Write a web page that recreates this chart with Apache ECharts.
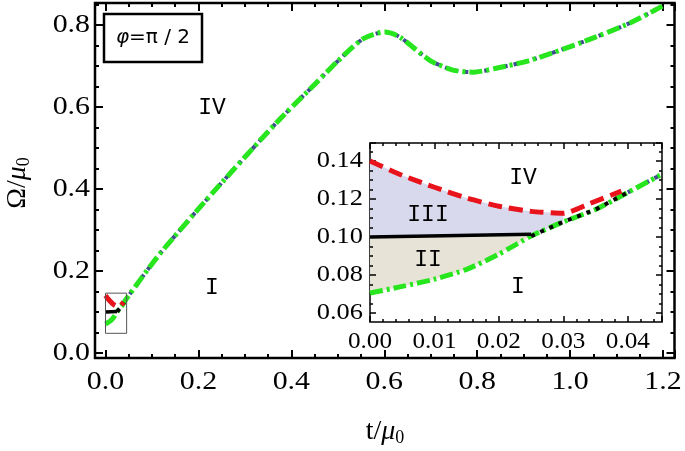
<!DOCTYPE html>
<html><head><meta charset="utf-8">
<script src="https://cdn.jsdelivr.net/npm/echarts@6/dist/echarts.min.js"></script>
<style>html,body{margin:0;padding:0;background:#fff}#c{width:685px;height:451px}</style>
</head><body><div id="c"></div>
<script>
// ---- data (t/mu0 , Omega/mu0) ----
// boundary I (green dash-dot), continues as the main upper curve
const greenT = [0, 0.005, 0.01, 0.015, 0.02, 0.025, 0.03, 0.035, 0.04, 0.045, 0.117, 0.231, 0.369, 0.45, 0.5, 0.554, 0.601, 0.633, 0.698, 0.748, 0.791, 0.843, 0.914, 1.021, 1.129, 1.2];
const greenW = [0.0705, 0.074, 0.0778, 0.083, 0.091, 0.1005, 0.108, 0.1145, 0.1235, 0.1325, 0.242, 0.391, 0.563, 0.655, 0.712, 0.766, 0.783, 0.771, 0.714, 0.690, 0.685, 0.695, 0.714, 0.756, 0.805, 0.847];
// blue dotted curve (same branch, drawn underneath)
const blueT = [0.04, 0.045, 0.117, 0.231, 0.369, 0.45, 0.5, 0.554, 0.601, 0.633, 0.698, 0.748, 0.791, 0.843, 0.914, 1.021, 1.129, 1.2];
const blueW = [0.1235, 0.1325, 0.242, 0.391, 0.563, 0.655, 0.712, 0.766, 0.783, 0.771, 0.714, 0.690, 0.685, 0.695, 0.714, 0.756, 0.805, 0.847];
// red dashed boundary (IV)
const redT = [0, 0.005, 0.01, 0.015, 0.02, 0.025, 0.03, 0.034, 0.039];
const redW = [0.14, 0.1325, 0.1262, 0.1205, 0.1162, 0.1135, 0.1125, 0.1175, 0.1242];
// black solid boundary (II / III)
const blackT = [0, 0.025];
const blackW = [0.1, 0.1015];
// black dotted continuation
const blackDotT = [0.025, 0.03, 0.035, 0.04];
const blackDotW = [0.1005, 0.108, 0.1145, 0.1235];
// zoom box drawn in main panel
const boxT = [0, 0.0455];
const boxW = [0.048, 0.146];

// ---- tick labels ----
const mainXTicks = [0, 0.2, 0.4, 0.6, 0.8, 1.0, 1.2];
const mainYTicks = [0, 0.2, 0.4, 0.6, 0.8];
const insetXTicks = [0, 0.01, 0.02, 0.03, 0.04];
const insetYTicks = [0.06, 0.08, 0.10, 0.12, 0.14];

// ---- axes ----
const mainX = { min: 0, max: 1.2247, interval: 0.2 };
const mainY = { min: 0, max: 0.8537, interval: 0.2 };
const insetX = { min: 0, max: 0.0453, interval: 0.01 };
const insetY = { min: 0.06, max: 0.1495, interval: 0.02 };

const SERIF = '"Liberation Serif", "Times New Roman", Times, "DejaVu Serif", serif';
const MONO = '"Liberation Mono", "Courier New", Courier, "DejaVu Sans Mono", monospace';
function ax(gridIndex, position, rng, len, minorSplit, width, offset) {
  return {
    type: 'value', gridIndex, position, min: rng.min, max: rng.max, interval: rng.interval, offset: offset || 0, z: 5,
    axisLine: { show: false, onZero: false }, splitLine: { show: false }, minorSplitLine: { show: false },
    axisTick: { show: true, inside: true, length: len, lineStyle: { color: '#000', width } },
    minorTick: { show: true, splitNumber: minorSplit, length: len / 2, lineStyle: { color: '#000', width } },
    axisLabel: { show: false }
  };
}

const xAxes = [
  ax(0, 'bottom', mainX, 8, 4, 2, 5),
  ax(0, 'top', mainX, 8, 4, 2),
  ax(1, 'bottom', insetX, 6, 5, 1.5, 9),
  ax(1, 'top', insetX, 6, 5, 1.5)
];
const yAxes = [
  ax(0, 'left', mainY, 8, 4, 2, 10.5),
  ax(0, 'right', mainY, 8, 4, 2),
  ax(1, 'left', insetY, 6, 4, 1.5),
  ax(1, 'right', insetY, 6, 4, 1.5)
];

const pairs = (T, W) => T.map((t, i) => [t, W[i]]);
const GREEN = '#28e61e', RED = '#e8131b', BLUE = '#3d4f8e', BLACK = '#000';

function lineSeries(xi, yi, T, W, color, width, type, z, smooth) {
  return { type: 'line', xAxisIndex: xi, yAxisIndex: yi, data: pairs(T, W), showSymbol: false, symbol: 'none',
    smooth: smooth || 0, clip: false, silent: true, z,
    lineStyle: { color, width, type, cap: 'butt', join: 'round' } };
}
function polySeries(xi, yi, pts, color) {
  return { type: 'custom', xAxisIndex: xi, yAxisIndex: yi, clip: false, silent: true, z: 3, data: [[0, 0.1]],
    renderItem: (params, api) => ({ type: 'polygon', shape: { points: pts.map(p => api.coord(p)) }, style: { fill: color } }) };
}
// region III: red top (t<=0.03), green right edge, black bottom
const regionIII = pairs(redT, redW).filter(p => p[0] <= 0.03)
  .concat(pairs(greenT, greenW).filter(p => p[0] >= 0.025 && p[0] <= 0.03).reverse())
  .concat(pairs(blackT, blackW).reverse());
// region II: black top, green bottom
const regionII = pairs(blackT, blackW)
  .concat(pairs(greenT, greenW).filter(p => p[0] <= 0.025).reverse());

function curveSet(xi, yi, xmax) {
  const cut = (T, W) => { const k = T.filter(t => t <= xmax).length; return [T.slice(0, k), W.slice(0, k)]; };
  const g = cut(greenT, greenW), b = cut(blueT, blueW);
  return [
    lineSeries(xi, yi, b[0], b[1], BLUE, 4, [4, 6], 4, 0.25),
    lineSeries(xi, yi, g[0], g[1], GREEN, 5, [13, 4, 3, 4], 5, 0.25),
    lineSeries(xi, yi, blackDotT, blackDotW, BLACK, 4, [4, 6], 6),
    lineSeries(xi, yi, blackT, blackW, BLACK, 3.5, 'solid', 6),
    lineSeries(xi, yi, redT, redW, RED, 5, [14, 7], 7, 0.2)
  ];
}

const series = [].concat(
  curveSet(0, 0, 2),
  [{ type: 'custom', xAxisIndex: 0, yAxisIndex: 0, silent: true, z: 8, data: [[0, 0.1]],
     renderItem: (params, api) => {
       const a = api.coord([boxT[0], boxW[1]]), b = api.coord([boxT[1], boxW[0]]);
       return { type: 'rect', shape: { x: a[0], y: a[1], width: b[0] - a[0], height: b[1] - a[1] },
         style: { fill: 'none', stroke: '#555', lineWidth: 1 } };
     } }],
  [polySeries(2, 2, regionIII, '#d9d9ee'), polySeries(2, 2, regionII, '#e7e3d7')],
  curveSet(2, 2, 0.0453)
);

function roman(txt, x, y) {
  return { type: 'text', x, y, z: 100, style: { text: txt, font: '23px ' + MONO, fill: '#000', align: 'center', verticalAlign: 'middle' } };
}
function tickText(txt, x, y, align, size, sx) {
  return { type: 'text', x, y, z: 100, scaleX: sx, style: { text: txt, font: size + 'px ' + SERIF, fill: '#000', align, verticalAlign: 'middle' } };
}
const nameRich = {
  n: { font: '28px ' + SERIF, fill: '#000' },
  i: { font: 'italic 28px ' + SERIF, fill: '#000' },
  s: { font: '18px ' + SERIF, fill: '#000', padding: [12, 0, 0, 0] }
};

const baseGraphic = [
  { type: 'rect', z: 1, shape: { x: 95, y: 3, width: 579.5, height: 355 }, style: { fill: 'none', stroke: '#000', lineWidth: 2.5 } },
  { type: 'rect', z: 1, shape: { x: 370, y: 143, width: 292, height: 179 }, style: { fill: '#fff', stroke: '#000', lineWidth: 1.5 } },
  { type: 'rect', z: 100, shape: { x: 104, y: 14, width: 98, height: 48 }, style: { fill: '#fff', stroke: '#000', lineWidth: 2.5 } },
  { type: 'text', z: 101, x: 153, y: 38, style: {
      text: '{i|φ}{n|=π / 2}', align: 'center', verticalAlign: 'middle',
      rich: { i: { font: 'italic 20px "DejaVu Sans", sans-serif', fill: '#000' },
              n: { font: '20px "DejaVu Sans", sans-serif', fill: '#000' } } } },
  // axis titles
  { type: 'text', z: 100, x: 385, y: 432, style: { text: '{n|t/}{i|μ}{s|0}', align: 'center', verticalAlign: 'middle', rich: nameRich } },
  { type: 'text', z: 100, x: 18, y: 183, rotation: Math.PI / 2, style: { text: '{n|Ω/}{i|μ}{s|0}', align: 'center', verticalAlign: 'middle', rich: nameRich } },
  roman('IV', 212, 108),
  roman('I', 212, 288),
  roman('IV', 523, 178),
  roman('III', 428, 215),
  roman('II', 428, 260),
  roman('I', 518, 287)
];

const option = {
  animation: false,
  backgroundColor: '#fff',
  grid: [
    { left: 105.5, top: 3, right: 10.5, bottom: 98, show: false },
    { left: 370, top: 143, right: 23, bottom: 138, show: false }
  ],
  xAxis: xAxes,
  yAxis: yAxes,
  series,
  graphic: baseGraphic
};
const chart = echarts.init(document.getElementById('c'), null, { renderer: 'canvas' });
chart.setOption(option);

// tick labels placed through the axes' own scales
const labels = [];
mainXTicks.forEach(v => labels.push(tickText(v.toFixed(1), chart.convertToPixel({ xAxisIndex: 0 }, v), 382, 'center', 26, 1.15)));
mainYTicks.forEach(v => labels.push(tickText(v.toFixed(1), 90, chart.convertToPixel({ yAxisIndex: 0 }, v), 'right', 26, 1.15)));
insetXTicks.forEach(v => labels.push(tickText(v.toFixed(2), chart.convertToPixel({ xAxisIndex: 2 }, v), 342, 'center', 24, 1.05)));
insetYTicks.forEach(v => labels.push(tickText(v.toFixed(2), 363, chart.convertToPixel({ yAxisIndex: 2 }, v), 'right', 24, 1.1)));
chart.setOption({ graphic: baseGraphic.concat(labels) });
</script>
</body></html>
